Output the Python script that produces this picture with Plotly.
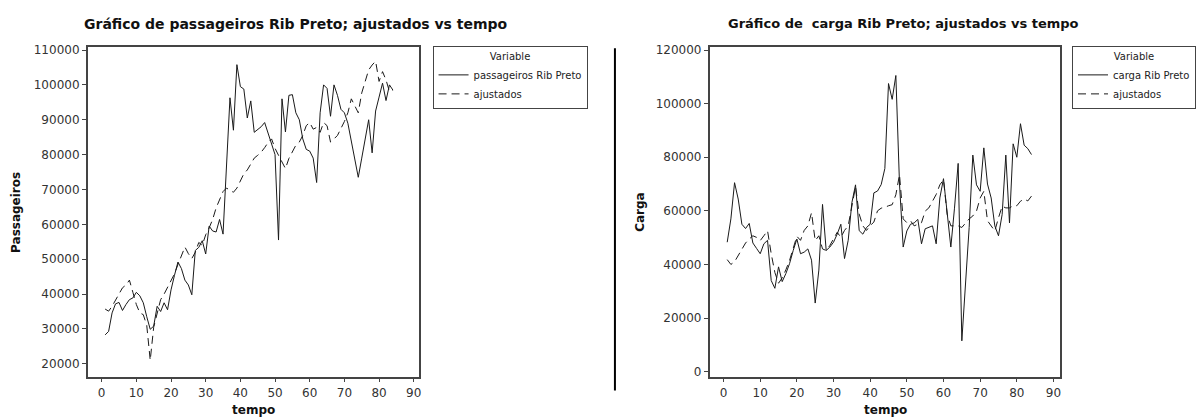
import plotly.graph_objects as go

W, H = 1196, 420

tempo = list(range(1, 85))

passageiros = [
    28300, 29300, 34600, 37200, 37600, 35300, 37000, 38400, 38900, 40500,
    39500, 37500, 33500, 29900, 30800, 36500, 35000, 37500, 35500, 41200,
    45400, 49200, 47300, 44000, 42600, 39800, 52500, 53400, 55300, 51500,
    59500, 58100, 57800, 61400, 57200, 76000, 96300, 87000, 105800, 99500,
    98800, 90500, 95400, 86400, 87300, 88000, 89200, 86000, 83500, 80000,
    55500, 96000, 86500, 97000, 97200, 92000, 90000, 84500, 81500, 81000,
    79000, 72000, 92000, 100000, 99000, 91000, 100000, 97000, 93000, 92000,
    89000, 83500, 78500, 73500, 79000, 84500, 90000, 80500, 92500, 96500,
    100500, 95500, 100000, 98500,
]

ajustados_pass = [
    35700, 35100, 36500, 38400, 40000, 41800, 42600, 44000, 40500, 37000,
    34600, 34100, 31000, 21000, 30500, 34100, 38400, 40000, 42000, 44000,
    45800, 48500, 51100, 53500, 51600, 50200, 52000, 54800, 54000, 57000,
    59000, 61400, 64700, 67000, 69400, 70400, 69900, 69200, 70400, 72500,
    74500, 75600, 77500, 79000, 79800, 80700, 82000, 83500, 84500, 81800,
    79800, 78000, 76000, 78900, 80800, 82700, 83600, 85500, 88300, 89200,
    87300, 87800, 86400, 89200, 88300, 83600, 84500, 85500, 87500, 89500,
    92000, 96000, 94000, 92000, 97700, 101000, 104300, 105700, 106800, 101000,
    103800, 101400, 98100, 98600,
]

carga = [
    48300, 57000, 70500, 64400, 55000, 53400, 55300, 48000, 46000, 44000,
    47700, 49000, 34000, 31100, 39100, 33600, 36600, 40300, 45200, 49500,
    44000, 44600, 45800, 41600, 25600, 37900, 62400, 45200, 46500, 48300,
    51300, 55000, 42200, 49000, 63000, 69700, 52600, 51300, 53800, 55000,
    66700, 67400, 69800, 75800, 107500, 101600, 110500, 70000, 46500, 52500,
    55000, 55500, 56800, 47700, 53300, 53800, 54400, 47700, 64800, 72000,
    58000, 46500, 61000, 77700, 11500, 33000, 53800, 80800, 69700, 67300,
    83500, 70000, 64800, 54400, 50700, 58700, 80800, 55500, 85000, 80000,
    92500, 84500, 83200, 81000,
]

ajustados_carga = [
    41800, 40000, 41000, 43500, 45800, 48000, 49500, 50700, 50100, 48900,
    50700, 52600, 44000, 37000, 33000, 35000, 38000, 41500, 46000, 50500,
    49000, 52700, 54400, 59300, 48900, 50700, 45800, 45200, 47100, 49500,
    52000, 50100, 52700, 54400, 62000, 69000, 58800, 54400, 52700, 54500,
    55800, 60000, 61000, 61300, 61900, 62300, 66000, 73500, 57000, 55600,
    56300, 54400, 55000, 55600, 59900, 61100, 63600, 66100, 69700, 71600,
    58700, 54400, 54400, 54400, 53800, 55600, 57000, 58100, 59900, 64800,
    67300, 56300, 54400, 52500, 57400, 61700, 61100, 61100, 61900, 61900,
    63600, 64400, 63700, 65500,
]

x_ticks = [0, 10, 20, 30, 40, 50, 60, 70, 80, 90]
y_ticks_pass = [20000, 30000, 40000, 50000, 60000, 70000, 80000, 90000, 100000, 110000]
y_ticks_carga = [0, 20000, 40000, 60000, 80000, 100000, 120000]

LINE = "#1a1a1a"
DASH = "8px,5px"

fig = go.Figure()
fig.add_trace(go.Scatter(x=tempo, y=passageiros, mode="lines", name="passageiros Rib Preto",
                         line=dict(color=LINE, width=1), xaxis="x", yaxis="y", legend="legend"))
fig.add_trace(go.Scatter(x=tempo, y=ajustados_pass, mode="lines", name="ajustados",
                         line=dict(color=LINE, width=1, dash=DASH), xaxis="x", yaxis="y", legend="legend"))
fig.add_trace(go.Scatter(x=tempo, y=carga, mode="lines", name="carga Rib Preto",
                         line=dict(color=LINE, width=1), xaxis="x2", yaxis="y2", legend="legend2"))
fig.add_trace(go.Scatter(x=tempo, y=ajustados_carga, mode="lines", name="ajustados",
                         line=dict(color=LINE, width=1, dash=DASH), xaxis="x2", yaxis="y2", legend="legend2"))

def px_x(p):
    return p / W

def px_y(p):
    return 1 - p / H

tick_font = dict(family="DejaVu Sans", size=12, color="#333333")
axis_common = dict(showgrid=False, zeroline=False, showline=True, linecolor="#444444", linewidth=1.5,
                   mirror=True, ticks="outside", ticklen=4, tickcolor="#444444", tickwidth=1,
                   tickfont=tick_font)

legend_font = dict(family="DejaVu Sans", size=10, color="#222222")

fig.update_layout(
    width=W, height=H,
    margin=dict(l=0, r=0, t=0, b=0),
    paper_bgcolor="white", plot_bgcolor="white",
    xaxis=dict(domain=[px_x(88), px_x(420)], range=[-4.03, 91.4], tickvals=x_ticks,
               ticktext=[str(v) for v in x_ticks], anchor="y", **axis_common),
    yaxis=dict(domain=[px_y(378), px_y(44)], range=[16330, 110760], tickvals=y_ticks_pass,
               ticktext=[str(v) for v in y_ticks_pass], anchor="x", **axis_common),
    xaxis2=dict(domain=[px_x(712), px_x(1064)], range=[-3.8, 91.9], tickvals=x_ticks,
                ticktext=[str(v) for v in x_ticks], anchor="y2", **axis_common),
    yaxis2=dict(domain=[px_y(378), px_y(44)], range=[-1840, 120990], tickvals=y_ticks_carga,
                ticktext=[str(v) for v in y_ticks_carga], anchor="x2", **axis_common),
    legend=dict(x=px_x(434), y=px_y(43), xanchor="left", yanchor="top",
                bordercolor="#444444", borderwidth=1, bgcolor="white",
                font=legend_font,
                title=dict(text="Variable", side="top center", font=legend_font),
                itemwidth=30, tracegroupgap=0),
    legend2=dict(x=px_x(1076), y=px_y(43), xanchor="left", yanchor="top",
                 bordercolor="#444444", borderwidth=1, bgcolor="white",
                 font=legend_font,
                 title=dict(text="Variable", side="top center", font=legend_font),
                 itemwidth=30, tracegroupgap=0),
    showlegend=True,
)

ann = [
    dict(text="<b>Gráfico de passageiros Rib Preto; ajustados vs tempo</b>", x=px_x(297), y=px_y(20),
         font=dict(family="DejaVu Sans", size=14, color="#111111")),
    dict(text="<b>Gráfico de  carga Rib Preto; ajustados vs tempo</b>", x=px_x(907), y=px_y(20),
         font=dict(family="DejaVu Sans", size=13, color="#111111")),
    dict(text="<b>tempo</b>", x=px_x(254), y=px_y(412), font=dict(family="DejaVu Sans", size=12, color="#111111")),
    dict(text="<b>tempo</b>", x=px_x(888), y=px_y(412), font=dict(family="DejaVu Sans", size=12, color="#111111")),
    dict(text="<b>Passageiros</b>", x=px_x(16), y=px_y(211), textangle=-90,
         font=dict(family="DejaVu Sans", size=12, color="#111111")),
    dict(text="<b>Carga</b>", x=px_x(642), y=px_y(211), textangle=-90,
         font=dict(family="DejaVu Sans", size=12, color="#111111")),
]
for a in ann:
    a.update(xref="paper", yref="paper", showarrow=False, xanchor="center", yanchor="middle")
fig.update_layout(annotations=ann)

fig.add_shape(type="line", xref="paper", yref="paper", x0=px_x(617), x1=px_x(617),
              y0=px_y(392), y1=px_y(45), line=dict(color="black", width=2))

fig.write_html("out.html")
